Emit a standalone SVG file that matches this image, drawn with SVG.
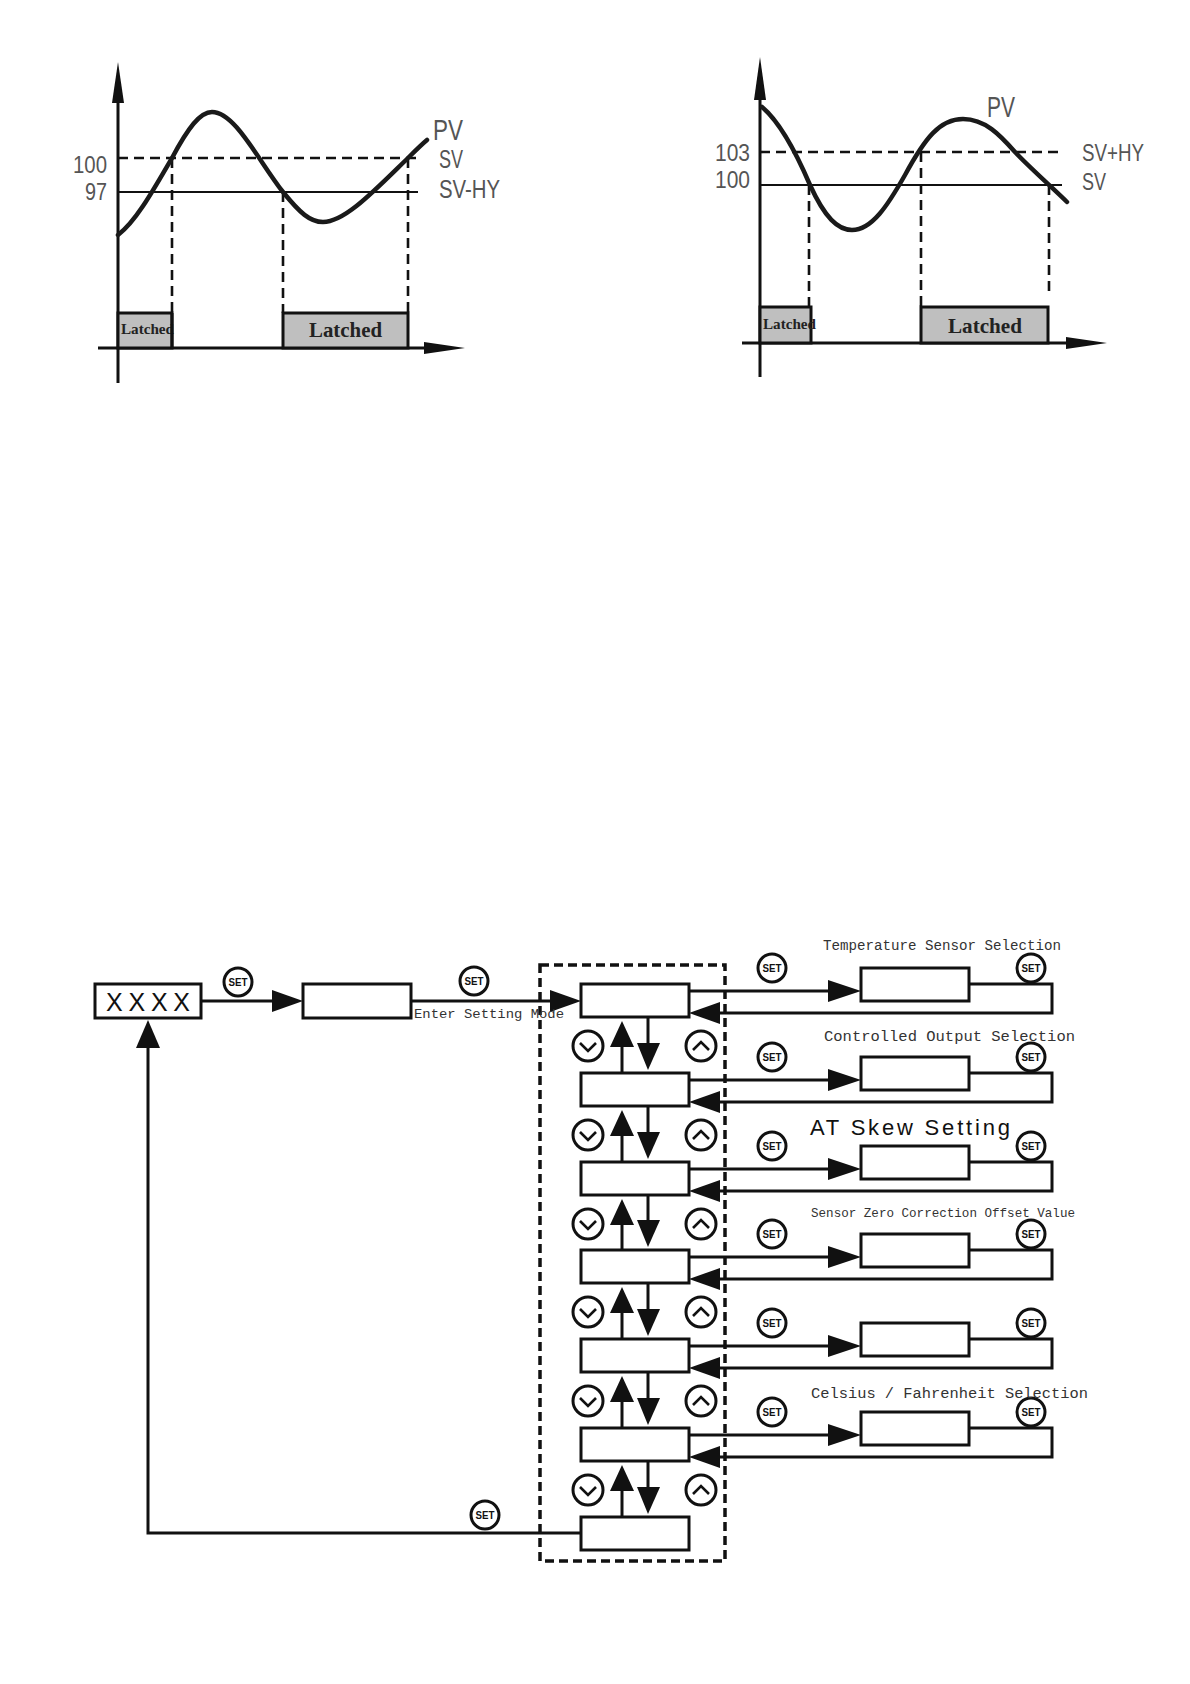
<svg xmlns="http://www.w3.org/2000/svg" width="1190" height="1684" viewBox="0 0 1190 1684">
<style>
.ax{stroke:#111;stroke-width:3;fill:none}
.dash{stroke:#111;stroke-width:2.6;fill:none;stroke-dasharray:10 6}
.hl{stroke:#111;stroke-width:2.2;fill:none}
.curve{stroke:#1a1a1a;stroke-width:4.5;fill:none;stroke-linecap:round}
.latch{fill:#bfbfbf;stroke:#111;stroke-width:3}
.lab{font-family:"Liberation Sans",Arial,sans-serif;fill:#555}
.lt{font-family:"Liberation Serif","Times New Roman",serif;font-weight:bold;fill:#222}
.box{fill:#fff;stroke:#111;stroke-width:3}
.ln{stroke:#111;stroke-width:3;fill:none}
.ah{fill:#111;stroke:none}
.mono{font-family:"Liberation Mono","Courier New",monospace;fill:#333}
.setc{fill:#fff;stroke:#111;stroke-width:3}
.sett{font-family:"Liberation Sans",Arial,sans-serif;font-weight:bold;font-size:10px;fill:#111;text-anchor:middle}
.chev{fill:none;stroke:#111;stroke-width:2.6;stroke-linejoin:miter}
.outl{fill:none;stroke:#111;stroke-width:3.5;stroke-dasharray:9 5}
</style>
<defs>
<g id="set"><circle class="setc" r="14"/><text class="sett" y="4" textLength="19" lengthAdjust="spacingAndGlyphs">SET</text></g>
<g id="dn"><circle class="setc" r="15" stroke-width="2.6"/><polyline class="chev" points="-8,-3 0,5 8,-3"/></g>
<g id="up"><circle class="setc" r="15" stroke-width="2.6"/><polyline class="chev" points="-8,4 0,-4 8,4"/></g>
</defs>

<!-- Left chart -->
<g id="chart1">
<line class="ax" x1="118" y1="95" x2="118" y2="383"/>
<polygon class="ah" points="118,62 112,103 124,103"/>
<line class="ax" x1="98" y1="348" x2="430" y2="348"/>
<polygon class="ah" points="465,348 424,342 424,354"/>
<line class="dash" x1="118" y1="158" x2="418" y2="158"/>
<line class="hl" x1="118" y1="192" x2="418" y2="192"/>
<line class="dash" x1="172" y1="158" x2="172" y2="313"/>
<line class="dash" x1="283" y1="192" x2="283" y2="313"/>
<line class="dash" x1="408" y1="158" x2="408" y2="313"/>
<path class="curve" d="M118,235 C135,222 150,196 172,158 C188,128 200,112 212,112 C235,112 258,160 283,192 C300,213 310,222 323,222 C345,222 375,190 408,158 C415,151 421,145 427,140"/>
<rect class="latch" x="118" y="313" width="54" height="35"/>
<rect class="latch" x="283" y="313" width="125" height="35"/>
<text class="lt" x="121" y="334" font-size="14" textLength="53" lengthAdjust="spacingAndGlyphs">Latched</text>
<line class="ax" x1="172" y1="313" x2="172" y2="348"/>
<text class="lt" x="309" y="337" font-size="21" textLength="73" lengthAdjust="spacingAndGlyphs">Latched</text>
<text class="lab" x="73" y="173" font-size="24" textLength="34" lengthAdjust="spacingAndGlyphs">100</text>
<text class="lab" x="85" y="200" font-size="24" textLength="22" lengthAdjust="spacingAndGlyphs">97</text>
<text class="lab" x="433" y="140" font-size="30" textLength="30" lengthAdjust="spacingAndGlyphs">PV</text>
<text class="lab" x="439" y="168" font-size="25" textLength="24" lengthAdjust="spacingAndGlyphs">SV</text>
<text class="lab" x="439" y="198" font-size="25" textLength="61" lengthAdjust="spacingAndGlyphs">SV-HY</text>
</g>

<!-- Right chart -->
<g id="chart2">
<line class="ax" x1="760" y1="90" x2="760" y2="377"/>
<polygon class="ah" points="760,57 754,100 766,100"/>
<line class="ax" x1="742" y1="343" x2="1072" y2="343"/>
<polygon class="ah" points="1107,343 1066,337 1066,349"/>
<line class="dash" x1="760" y1="152" x2="1062" y2="152"/>
<line class="hl" x1="760" y1="185" x2="1062" y2="185"/>
<line class="dash" x1="809" y1="185" x2="809" y2="307"/>
<line class="dash" x1="921" y1="152" x2="921" y2="307"/>
<line class="dash" x1="1049" y1="185" x2="1049" y2="297"/>
<path class="curve" d="M762,107 C780,122 795,150 810,185 C825,218 838,230 852,230 C872,230 888,205 905,175 C925,138 940,119 963,119 C985,119 1000,135 1015,152 C1030,168 1055,190 1067,202"/>
<rect class="latch" x="760" y="307" width="51" height="36"/>
<rect class="latch" x="921" y="307" width="127" height="36"/>
<text class="lt" x="763" y="329" font-size="14" textLength="53" lengthAdjust="spacingAndGlyphs">Latched</text>
<text class="lt" x="948" y="333" font-size="21" textLength="74" lengthAdjust="spacingAndGlyphs">Latched</text>
<text class="lab" x="715" y="161" font-size="23" textLength="35" lengthAdjust="spacingAndGlyphs">103</text>
<text class="lab" x="715" y="188" font-size="23" textLength="35" lengthAdjust="spacingAndGlyphs">100</text>
<text class="lab" x="987" y="117" font-size="29" textLength="28" lengthAdjust="spacingAndGlyphs">PV</text>
<text class="lab" x="1082" y="161" font-size="24" textLength="62" lengthAdjust="spacingAndGlyphs">SV+HY</text>
<text class="lab" x="1082" y="190" font-size="24" textLength="24" lengthAdjust="spacingAndGlyphs">SV</text>
</g>

<!-- Flowchart -->
<g id="outline"><rect class="outl" x="540" y="965" width="185" height="596"/></g>

<g id="connectors">
<!-- XXXX -> box -->
<line class="ln" x1="201" y1="1001" x2="275" y2="1001"/>
<polygon class="ah" points="272,990 303,1001 272,1012"/>
<line class="ln" x1="411" y1="1001" x2="553" y2="1001"/>
<polygon class="ah" points="550,990 581,1001 550,1012"/>
<!-- return to XXXX -->
<polyline class="ln" points="581,1533 148,1533 148,1045"/>
<polygon class="ah" points="136,1048 148,1020 160,1048"/>
<!-- rows -->
<g id="rowconn">
<line class="ln" x1="689" y1="991" x2="831" y2="991"/><polygon class="ah" points="828,980 861,991 828,1002"/>
<polyline class="ln" points="969,984 1052,984 1052,1013 717,1013"/><polygon class="ah" points="720,1002 689,1013 720,1024"/>
<line class="ln" x1="689" y1="1080" x2="831" y2="1080"/><polygon class="ah" points="828,1069 861,1080 828,1091"/>
<polyline class="ln" points="969,1073 1052,1073 1052,1102 717,1102"/><polygon class="ah" points="720,1091 689,1102 720,1113"/>
<line class="ln" x1="689" y1="1169" x2="831" y2="1169"/><polygon class="ah" points="828,1158 861,1169 828,1180"/>
<polyline class="ln" points="969,1162 1052,1162 1052,1191 717,1191"/><polygon class="ah" points="720,1180 689,1191 720,1202"/>
<line class="ln" x1="689" y1="1257" x2="831" y2="1257"/><polygon class="ah" points="828,1246 861,1257 828,1268"/>
<polyline class="ln" points="969,1250 1052,1250 1052,1279 717,1279"/><polygon class="ah" points="720,1268 689,1279 720,1290"/>
<line class="ln" x1="689" y1="1346" x2="831" y2="1346"/><polygon class="ah" points="828,1335 861,1346 828,1357"/>
<polyline class="ln" points="969,1339 1052,1339 1052,1368 717,1368"/><polygon class="ah" points="720,1357 689,1368 720,1379"/>
<line class="ln" x1="689" y1="1435" x2="831" y2="1435"/><polygon class="ah" points="828,1424 861,1435 828,1446"/>
<polyline class="ln" points="969,1428 1052,1428 1052,1457 717,1457"/><polygon class="ah" points="720,1446 689,1457 720,1468"/>
</g>
<!-- up/down between menu boxes -->
<g id="updown">
<line class="ln" x1="622" y1="1073" x2="622" y2="1045"/><polygon class="ah" points="610,1047 622,1021 634,1047"/>
<line class="ln" x1="648" y1="1017" x2="648" y2="1046"/><polygon class="ah" points="637,1043 648,1070 660,1043"/>
<line class="ln" x1="622" y1="1162" x2="622" y2="1134"/><polygon class="ah" points="610,1136 622,1110 634,1136"/>
<line class="ln" x1="648" y1="1106" x2="648" y2="1135"/><polygon class="ah" points="637,1132 648,1159 660,1132"/>
<line class="ln" x1="622" y1="1250" x2="622" y2="1223"/><polygon class="ah" points="610,1225 622,1199 634,1225"/>
<line class="ln" x1="648" y1="1195" x2="648" y2="1223"/><polygon class="ah" points="637,1220 648,1247 660,1220"/>
<line class="ln" x1="622" y1="1339" x2="622" y2="1311"/><polygon class="ah" points="610,1313 622,1287 634,1313"/>
<line class="ln" x1="648" y1="1283" x2="648" y2="1312"/><polygon class="ah" points="637,1309 648,1336 660,1309"/>
<line class="ln" x1="622" y1="1428" x2="622" y2="1400"/><polygon class="ah" points="610,1402 622,1376 634,1402"/>
<line class="ln" x1="648" y1="1372" x2="648" y2="1401"/><polygon class="ah" points="637,1398 648,1425 660,1398"/>
<line class="ln" x1="622" y1="1517" x2="622" y2="1489"/><polygon class="ah" points="610,1491 622,1465 634,1491"/>
<line class="ln" x1="648" y1="1461" x2="648" y2="1490"/><polygon class="ah" points="637,1487 648,1514 660,1487"/>
</g>
</g>

<g id="n-xxxx"><rect class="box" x="95" y="984" width="106" height="34"/><text x="106" y="1011" font-family="Liberation Sans,Arial,sans-serif" font-size="25" fill="#111" textLength="84" lengthAdjust="spacing">XXXX</text></g>
<g id="n-enter"><rect class="box" x="303" y="984" width="108" height="34"/></g>
<g id="n-m1"><rect class="box" x="581" y="984" width="108" height="33"/></g>
<g id="n-m2"><rect class="box" x="581" y="1073" width="108" height="33"/></g>
<g id="n-m3"><rect class="box" x="581" y="1162" width="108" height="33"/></g>
<g id="n-m4"><rect class="box" x="581" y="1250" width="108" height="33"/></g>
<g id="n-m5"><rect class="box" x="581" y="1339" width="108" height="33"/></g>
<g id="n-m6"><rect class="box" x="581" y="1428" width="108" height="33"/></g>
<g id="n-m7"><rect class="box" x="581" y="1517" width="108" height="33"/></g>
<g id="n-s1"><rect class="box" x="861" y="968" width="108" height="33"/></g>
<g id="n-s2"><rect class="box" x="861" y="1057" width="108" height="33"/></g>
<g id="n-s3"><rect class="box" x="861" y="1146" width="108" height="33"/></g>
<g id="n-s4"><rect class="box" x="861" y="1234" width="108" height="33"/></g>
<g id="n-s5"><rect class="box" x="861" y="1323" width="108" height="33"/></g>
<g id="n-s6"><rect class="box" x="861" y="1412" width="108" height="33"/></g>

<g id="buttons">
<use href="#set" x="238" y="982"/>
<use href="#set" x="474" y="981"/>
<use href="#set" x="485" y="1515"/>
<use href="#set" x="772" y="968"/><use href="#set" x="1031" y="968"/>
<use href="#set" x="772" y="1057"/><use href="#set" x="1031" y="1057"/>
<use href="#set" x="772" y="1146"/><use href="#set" x="1031" y="1146"/>
<use href="#set" x="772" y="1234"/><use href="#set" x="1031" y="1234"/>
<use href="#set" x="772" y="1323"/><use href="#set" x="1031" y="1323"/>
<use href="#set" x="772" y="1412"/><use href="#set" x="1031" y="1412"/>
<use href="#dn" x="588" y="1046"/><use href="#up" x="701" y="1046"/>
<use href="#dn" x="588" y="1135"/><use href="#up" x="701" y="1135"/>
<use href="#dn" x="588" y="1224"/><use href="#up" x="701" y="1224"/>
<use href="#dn" x="588" y="1312"/><use href="#up" x="701" y="1312"/>
<use href="#dn" x="588" y="1401"/><use href="#up" x="701" y="1401"/>
<use href="#dn" x="588" y="1490"/><use href="#up" x="701" y="1490"/>
</g>

<g id="labels">
<text class="mono" x="414" y="1018" font-size="13.5" textLength="150" lengthAdjust="spacingAndGlyphs">Enter Setting Mode</text>
<text class="mono" x="823" y="950" font-size="14" textLength="238" lengthAdjust="spacingAndGlyphs">Temperature Sensor Selection</text>
<text class="mono" x="824" y="1041" font-size="14" textLength="251" lengthAdjust="spacingAndGlyphs">Controlled Output Selection</text>
<text x="810" y="1135" font-family="Liberation Sans,Arial,sans-serif" font-size="22" fill="#111" textLength="200" lengthAdjust="spacing">AT Skew Setting</text>
<text class="mono" x="811" y="1217" font-size="13" textLength="264" lengthAdjust="spacingAndGlyphs">Sensor Zero Correction Offset Value</text>
<text class="mono" x="811" y="1398" font-size="14" textLength="277" lengthAdjust="spacingAndGlyphs">Celsius / Fahrenheit Selection</text>
</g>
</svg>
